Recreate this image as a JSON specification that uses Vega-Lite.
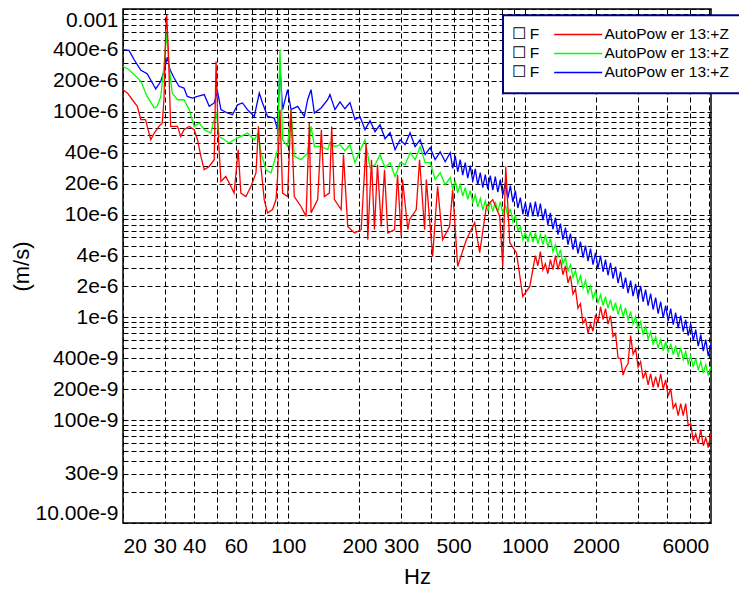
{
"$schema":"https://vega.github.io/schema/vega-lite/v6.json",
"width":588,"height":514,
"autosize":{"type":"none"},
"padding":{"left":123,"top":9,"right":28,"bottom":66},
"background":"white",
"config":{"view":{"stroke":"#000","strokeWidth":1.5},"font":"Liberation Sans","legend":{"labelFontSize":15.5,"labelFont":"Liberation Sans","labelColor":"#000"}},
"data":{"values":[
{"s":"S3","f":20,"v":4.02e-4},{"s":"S3","f":21.2,"v":3.96e-4},{"s":"S3","f":22.3,"v":3.21e-4},{"s":"S3","f":23.8,"v":2.53e-4},{"s":"S3","f":25.3,"v":2.35e-4},{"s":"S3","f":27.1,"v":1.77e-4},{"s":"S3","f":27.5,"v":1.67e-4},{"s":"S3","f":28.9,"v":1.98e-4},{"s":"S3","f":29.8,"v":2.47e-4},{"s":"S3","f":30.8,"v":3.41e-4},{"s":"S3","f":31.6,"v":2.57e-4},{"s":"S3","f":32.9,"v":2.13e-4},{"s":"S3","f":34.5,"v":1.77e-4},{"s":"S3","f":36.2,"v":1.70e-4},{"s":"S3","f":37.4,"v":1.41e-4},{"s":"S3","f":39.3,"v":1.36e-4},{"s":"S3","f":41.3,"v":1.41e-4},{"s":"S3","f":44.1,"v":1.47e-4},{"s":"S3","f":46.3,"v":1.13e-4},{"s":"S3","f":48.6,"v":1.22e-4},{"s":"S3","f":50.2,"v":1.58e-4},{"s":"S3","f":51.9,"v":1.05e-4},{"s":"S3","f":55.3,"v":9.73e-5},{"s":"S3","f":58.1,"v":9.37e-5},{"s":"S3","f":61.0,"v":1.17e-4},{"s":"S3","f":64.0,"v":1.22e-4},{"s":"S3","f":67.2,"v":1.05e-4},{"s":"S3","f":71.8,"v":9.02e-5},{"s":"S3","f":75.4,"v":1.52e-4},{"s":"S3","f":77.8,"v":1.22e-4},{"s":"S3","f":81.7,"v":9.02e-5},{"s":"S3","f":87.2,"v":8.70e-5},{"s":"S3","f":90.1,"v":6.70e-5},{"s":"S3","f":92.2,"v":2.76e-4},{"s":"S3","f":94.6,"v":1.05e-4},{"s":"S3","f":99.3,"v":1.64e-4},{"s":"S3","f":102.7,"v":1.05e-4},{"s":"S3","f":109.5,"v":1.13e-4},{"s":"S3","f":116.9,"v":9.02e-5},{"s":"S3","f":120.7,"v":1.31e-4},{"s":"S3","f":124.8,"v":1.64e-4},{"s":"S3","f":128.9,"v":9.73e-5},{"s":"S3","f":137.6,"v":1.09e-4},{"s":"S3","f":146.7,"v":1.31e-4},
{"s":"S3","f":150,"v":1.47e-4},{"s":"S3","f":157.5,"v":1.05e-4},{"s":"S3","f":165.4,"v":1.25e-4},{"s":"S3","f":173.6,"v":1.07e-4},{"s":"S3","f":182.3,"v":1.23e-4},{"s":"S3","f":191.4,"v":8.40e-5},{"s":"S3","f":201.0,"v":8.96e-5},{"s":"S3","f":211.1,"v":6.70e-5},{"s":"S3","f":221.6,"v":8.19e-5},{"s":"S3","f":232.7,"v":6.40e-5},{"s":"S3","f":244.3,"v":7.49e-5},{"s":"S3","f":256.5,"v":5.47e-5},{"s":"S3","f":269.4,"v":6.26e-5},{"s":"S3","f":282.8,"v":4.28e-5},{"s":"S3","f":297.0,"v":5.35e-5},{"s":"S3","f":311.8,"v":4.79e-5},{"s":"S3","f":327.4,"v":6.26e-5},{"s":"S3","f":343.8,"v":4.58e-5},{"s":"S3","f":361.0,"v":5.35e-5},{"s":"S3","f":379.0,"v":3.83e-5},{"s":"S3","f":398.0,"v":4.48e-5},{"s":"S3","f":417.9,"v":3.42e-5},{"s":"S3","f":438.8,"v":4.09e-5},{"s":"S3","f":460.7,"v":3.27e-5},
{"s":"S3","f":483.8,"v":4.00e-5},{"s":"S3","f":495.7,"v":2.82e-5},{"s":"S3","f":508.0,"v":3.73e-5},{"s":"S3","f":520.5,"v":2.61e-5},{"s":"S3","f":533.3,"v":3.42e-5},{"s":"S3","f":546.5,"v":2.42e-5},{"s":"S3","f":560.0,"v":3.20e-5},{"s":"S3","f":573.8,"v":2.26e-5},{"s":"S3","f":588.0,"v":2.99e-5},{"s":"S3","f":602.5,"v":2.11e-5},{"s":"S3","f":617.4,"v":2.79e-5},{"s":"S3","f":632.6,"v":1.95e-5},{"s":"S3","f":648.3,"v":2.56e-5},{"s":"S3","f":664.3,"v":1.83e-5},{"s":"S3","f":680.7,"v":2.45e-5},{"s":"S3","f":697.5,"v":1.77e-5},{"s":"S3","f":714.7,"v":2.39e-5},{"s":"S3","f":732.4,"v":1.73e-5},{"s":"S3","f":750.5,"v":2.34e-5},{"s":"S3","f":769.0,"v":1.65e-5},{"s":"S3","f":788.0,"v":2.19e-5},{"s":"S3","f":807.5,"v":1.54e-5},{"s":"S3","f":827.4,"v":2.04e-5},{"s":"S3","f":847.8,"v":1.44e-5},{"s":"S3","f":868.8,"v":1.91e-5},{"s":"S3","f":890.3,"v":1.32e-5},{"s":"S3","f":912.2,"v":1.71e-5},{"s":"S3","f":934.7,"v":1.16e-5},{"s":"S3","f":957.8,"v":1.46e-5},{"s":"S3","f":981.5,"v":1.01e-5},{"s":"S3","f":1005.7,"v":1.31e-5},{"s":"S3","f":1030.5,"v":9.56e-6},{"s":"S3","f":1056,"v":1.31e-5},{"s":"S3","f":1082,"v":9.67e-6},{"s":"S3","f":1109,"v":1.34e-5},{"s":"S3","f":1136,"v":9.56e-6},{"s":"S3","f":1164,"v":1.28e-5},{"s":"S3","f":1193,"v":8.84e-6},{"s":"S3","f":1222,"v":1.14e-5},{"s":"S3","f":1252,"v":7.96e-6},{"s":"S3","f":1283,"v":1.04e-5},{"s":"S3","f":1315,"v":7.20e-6},{"s":"S3","f":1348,"v":9.33e-6},{"s":"S3","f":1381,"v":6.38e-6},{"s":"S3","f":1415,"v":8.16e-6},{"s":"S3","f":1450,"v":5.70e-6},{"s":"S3","f":1486,"v":7.46e-6},{"s":"S3","f":1523,"v":5.10e-6},{"s":"S3","f":1560,"v":6.52e-6},{"s":"S3","f":1599,"v":4.56e-6},{"s":"S3","f":1638,"v":5.96e-6},{"s":"S3","f":1678,"v":4.17e-6},{"s":"S3","f":1720,"v":5.45e-6},{"s":"S3","f":1762,"v":3.81e-6},{"s":"S3","f":1806,"v":4.98e-6},{"s":"S3","f":1851,"v":3.52e-6},{"s":"S3","f":1896,"v":4.66e-6},{"s":"S3","f":1943,"v":3.26e-6},{"s":"S3","f":1991,"v":4.25e-6},{"s":"S3","f":2040,"v":3.01e-6},{"s":"S3","f":2091,"v":3.98e-6},{"s":"S3","f":2143,"v":2.78e-6},{"s":"S3","f":2195,"v":3.64e-6},{"s":"S3","f":2249,"v":2.57e-6},{"s":"S3","f":2305,"v":3.40e-6},{"s":"S3","f":2362,"v":2.38e-6},{"s":"S3","f":2420,"v":3.12e-6},{"s":"S3","f":2480,"v":2.15e-6},{"s":"S3","f":2541,"v":2.78e-6},{"s":"S3","f":2604,"v":1.90e-6},{"s":"S3","f":2668,"v":2.44e-6},{"s":"S3","f":2734,"v":1.72e-6},{"s":"S3","f":2802,"v":2.28e-6},{"s":"S3","f":2871,"v":1.61e-6},{"s":"S3","f":2942,"v":2.12e-6},{"s":"S3","f":3015,"v":1.51e-6},{"s":"S3","f":3089,"v":2.03e-6},{"s":"S3","f":3165,"v":1.42e-6},{"s":"S3","f":3243,"v":1.86e-6},{"s":"S3","f":3323,"v":1.30e-6},{"s":"S3","f":3406,"v":1.70e-6},{"s":"S3","f":3490,"v":1.19e-6},{"s":"S3","f":3576,"v":1.56e-6},{"s":"S3","f":3664,"v":1.09e-6},{"s":"S3","f":3755,"v":1.42e-6},{"s":"S3","f":3848,"v":9.94e-7},{"s":"S3","f":3942,"v":1.30e-6},{"s":"S3","f":4039,"v":9.21e-7},{"s":"S3","f":4140,"v":1.22e-6},{"s":"S3","f":4242,"v":8.51e-7},{"s":"S3","f":4347,"v":1.11e-6},{"s":"S3","f":4454,"v":7.86e-7},{"s":"S3","f":4564,"v":1.04e-6},{"s":"S3","f":4677,"v":7.26e-7},{"s":"S3","f":4792,"v":9.49e-7},{"s":"S3","f":4910,"v":6.64e-7},{"s":"S3","f":5032,"v":8.69e-7},{"s":"S3","f":5156,"v":5.94e-7},{"s":"S3","f":5283,"v":7.59e-7},{"s":"S3","f":5413,"v":5.25e-7},{"s":"S3","f":5548,"v":6.79e-7},{"s":"S3","f":5685,"v":4.69e-7},{"s":"S3","f":5825,"v":6.07e-7},{"s":"S3","f":5969,"v":4.20e-7},{"s":"S3","f":6116,"v":5.43e-7},
{"s":"S2","f":20,"v":2.77e-4},{"s":"S2","f":21.2,"v":2.57e-4},{"s":"S2","f":22.3,"v":2.30e-4},{"s":"S2","f":23.8,"v":1.98e-4},{"s":"S2","f":25.3,"v":1.41e-4},{"s":"S2","f":27.1,"v":1.09e-4},{"s":"S2","f":27.9,"v":1.13e-4},{"s":"S2","f":28.9,"v":1.41e-4},{"s":"S2","f":29.8,"v":2.77e-4},{"s":"S2","f":30.6,"v":5.84e-4},{"s":"S2","f":31.3,"v":2.77e-4},{"s":"S2","f":32.3,"v":1.52e-4},{"s":"S2","f":34.0,"v":1.31e-4},{"s":"S2","f":36.2,"v":1.31e-4},{"s":"S2","f":38.1,"v":1.05e-4},{"s":"S2","f":40.0,"v":7.21e-5},{"s":"S2","f":42.0,"v":7.78e-5},{"s":"S2","f":44.1,"v":6.70e-5},{"s":"S2","f":47.1,"v":6.22e-5},{"s":"S2","f":48.6,"v":8.40e-5},{"s":"S2","f":49.7,"v":9.37e-5},{"s":"S2","f":51.0,"v":5.76e-5},{"s":"S2","f":53.6,"v":5.35e-5},{"s":"S2","f":56.2,"v":4.97e-5},{"s":"S2","f":59.0,"v":5.35e-5},{"s":"S2","f":63.0,"v":5.76e-5},{"s":"S2","f":67.2,"v":6.22e-5},{"s":"S2","f":71.8,"v":5.35e-5},{"s":"S2","f":74.6,"v":6.22e-5},{"s":"S2","f":76.6,"v":3.97e-5},{"s":"S2","f":80.5,"v":2.73e-5},{"s":"S2","f":84.5,"v":2.54e-5},{"s":"S2","f":90.1,"v":4.28e-5},{"s":"S2","f":92.2,"v":4.02e-4},{"s":"S2","f":94.6,"v":5.35e-5},{"s":"S2","f":99.3,"v":4.61e-5},{"s":"S2","f":102.7,"v":1.05e-4},{"s":"S2","f":106.0,"v":3.68e-5},{"s":"S2","f":113.2,"v":3.42e-5},{"s":"S2","f":120.7,"v":3.97e-5},{"s":"S2","f":124.8,"v":7.21e-5},{"s":"S2","f":128.9,"v":4.61e-5},{"s":"S2","f":137.6,"v":4.61e-5},{"s":"S2","f":146.7,"v":4.28e-5},
{"s":"S2","f":150,"v":5.01e-5},{"s":"S2","f":157.5,"v":4.58e-5},{"s":"S2","f":165.4,"v":4.79e-5},{"s":"S2","f":173.6,"v":4.18e-5},{"s":"S2","f":182.3,"v":4.79e-5},{"s":"S2","f":191.4,"v":3.20e-5},{"s":"S2","f":201.0,"v":4.18e-5},{"s":"S2","f":211.1,"v":5.35e-5},{"s":"S2","f":221.6,"v":2.86e-5},{"s":"S2","f":232.7,"v":3.06e-5},{"s":"S2","f":244.3,"v":3.83e-5},{"s":"S2","f":256.5,"v":2.86e-5},{"s":"S2","f":269.4,"v":3.20e-5},{"s":"S2","f":282.8,"v":2.34e-5},{"s":"S2","f":297.0,"v":3.20e-5},{"s":"S2","f":311.8,"v":3.06e-5},{"s":"S2","f":327.4,"v":4.00e-5},{"s":"S2","f":343.8,"v":3.42e-5},{"s":"S2","f":361.0,"v":4.58e-5},{"s":"S2","f":379.0,"v":3.20e-5},{"s":"S2","f":398.0,"v":3.20e-5},{"s":"S2","f":417.9,"v":2.19e-5},{"s":"S2","f":438.8,"v":2.56e-5},{"s":"S2","f":460.7,"v":1.95e-5},
{"s":"S2","f":483.8,"v":2.29e-5},{"s":"S2","f":495.7,"v":1.77e-5},{"s":"S2","f":508.0,"v":2.14e-5},{"s":"S2","f":520.5,"v":1.63e-5},{"s":"S2","f":533.3,"v":1.95e-5},{"s":"S2","f":546.5,"v":1.51e-5},{"s":"S2","f":560.0,"v":1.83e-5},{"s":"S2","f":573.8,"v":1.41e-5},{"s":"S2","f":588.0,"v":1.71e-5},{"s":"S2","f":602.5,"v":1.31e-5},{"s":"S2","f":617.4,"v":1.56e-5},{"s":"S2","f":632.6,"v":1.19e-5},{"s":"S2","f":648.3,"v":1.43e-5},{"s":"S2","f":664.3,"v":1.11e-5},{"s":"S2","f":680.7,"v":1.36e-5},{"s":"S2","f":697.5,"v":1.08e-5},{"s":"S2","f":714.7,"v":1.34e-5},{"s":"S2","f":732.4,"v":1.07e-5},{"s":"S2","f":750.5,"v":1.34e-5},{"s":"S2","f":769.0,"v":1.07e-5},{"s":"S2","f":788.0,"v":1.34e-5},{"s":"S2","f":807.5,"v":1.03e-5},{"s":"S2","f":827.4,"v":1.25e-5},{"s":"S2","f":847.8,"v":9.54e-6},{"s":"S2","f":868.8,"v":1.14e-5},{"s":"S2","f":890.3,"v":8.53e-6},{"s":"S2","f":912.2,"v":9.98e-6},{"s":"S2","f":934.7,"v":6.98e-6},{"s":"S2","f":957.8,"v":7.63e-6},{"s":"S2","f":981.5,"v":5.70e-6},{"s":"S2","f":1005.7,"v":6.67e-6},{"s":"S2","f":1030.5,"v":5.39e-6},{"s":"S2","f":1056,"v":6.82e-6},{"s":"S2","f":1082,"v":5.39e-6},{"s":"S2","f":1109,"v":6.67e-6},{"s":"S2","f":1136,"v":5.21e-6},{"s":"S2","f":1164,"v":6.38e-6},{"s":"S2","f":1193,"v":5.10e-6},{"s":"S2","f":1222,"v":6.38e-6},{"s":"S2","f":1252,"v":4.88e-6},{"s":"S2","f":1283,"v":5.83e-6},{"s":"S2","f":1315,"v":4.36e-6},{"s":"S2","f":1348,"v":5.09e-6},{"s":"S2","f":1381,"v":3.85e-6},{"s":"S2","f":1415,"v":4.56e-6},{"s":"S2","f":1450,"v":3.33e-6},{"s":"S2","f":1486,"v":3.80e-6},{"s":"S2","f":1523,"v":2.82e-6},{"s":"S2","f":1560,"v":3.26e-6},{"s":"S2","f":1599,"v":2.44e-6},{"s":"S2","f":1638,"v":2.85e-6},{"s":"S2","f":1678,"v":2.15e-6},{"s":"S2","f":1720,"v":2.54e-6},{"s":"S2","f":1762,"v":1.92e-6},{"s":"S2","f":1806,"v":2.28e-6},{"s":"S2","f":1851,"v":1.72e-6},{"s":"S2","f":1896,"v":2.03e-6},{"s":"S2","f":1943,"v":1.53e-6},{"s":"S2","f":1991,"v":1.81e-6},{"s":"S2","f":2040,"v":1.39e-6},{"s":"S2","f":2091,"v":1.66e-6},{"s":"S2","f":2143,"v":1.30e-6},{"s":"S2","f":2195,"v":1.59e-6},{"s":"S2","f":2249,"v":1.23e-6},{"s":"S2","f":2305,"v":1.49e-6},{"s":"S2","f":2362,"v":1.15e-6},{"s":"S2","f":2420,"v":1.39e-6},{"s":"S2","f":2480,"v":1.07e-6},{"s":"S2","f":2541,"v":1.30e-6},{"s":"S2","f":2604,"v":1.02e-6},{"s":"S2","f":2668,"v":1.24e-6},{"s":"S2","f":2734,"v":9.52e-7},{"s":"S2","f":2802,"v":1.14e-6},{"s":"S2","f":2871,"v":8.60e-7},{"s":"S2","f":2942,"v":1.02e-6},{"s":"S2","f":3015,"v":7.68e-7},{"s":"S2","f":3089,"v":9.08e-7},{"s":"S2","f":3165,"v":6.86e-7},{"s":"S2","f":3243,"v":8.12e-7},{"s":"S2","f":3323,"v":6.14e-7},{"s":"S2","f":3406,"v":7.26e-7},{"s":"S2","f":3490,"v":5.49e-7},{"s":"S2","f":3576,"v":6.49e-7},{"s":"S2","f":3664,"v":5.02e-7},{"s":"S2","f":3755,"v":6.07e-7},{"s":"S2","f":3848,"v":4.74e-7},{"s":"S2","f":3942,"v":5.80e-7},{"s":"S2","f":4039,"v":4.54e-7},{"s":"S2","f":4140,"v":5.55e-7},{"s":"S2","f":4242,"v":4.34e-7},{"s":"S2","f":4347,"v":5.30e-7},{"s":"S2","f":4454,"v":4.14e-7},{"s":"S2","f":4564,"v":5.07e-7},{"s":"S2","f":4677,"v":3.88e-7},{"s":"S2","f":4792,"v":4.64e-7},{"s":"S2","f":4910,"v":3.55e-7},{"s":"S2","f":5032,"v":4.24e-7},{"s":"S2","f":5156,"v":3.28e-7},{"s":"S2","f":5283,"v":3.97e-7},{"s":"S2","f":5413,"v":3.07e-7},{"s":"S2","f":5548,"v":3.71e-7},{"s":"S2","f":5685,"v":2.87e-7},{"s":"S2","f":5825,"v":3.47e-7},{"s":"S2","f":5969,"v":2.71e-7},{"s":"S2","f":6116,"v":3.32e-7},
{"s":"S1","f":20,"v":1.64e-4},{"s":"S1","f":20.9,"v":1.52e-4},{"s":"S1","f":21.9,"v":1.31e-4},{"s":"S1","f":23.0,"v":1.13e-4},{"s":"S1","f":23.8,"v":8.40e-5},{"s":"S1","f":24.9,"v":8.40e-5},{"s":"S1","f":26.2,"v":5.35e-5},{"s":"S1","f":27.1,"v":6.22e-5},{"s":"S1","f":28.4,"v":7.21e-5},{"s":"S1","f":29.3,"v":7.78e-5},{"s":"S1","f":29.8,"v":1.31e-4},{"s":"S1","f":30.3,"v":5.84e-4},{"s":"S1","f":30.6,"v":8.80e-4},{"s":"S1","f":31.1,"v":4.02e-4},{"s":"S1","f":31.8,"v":7.21e-5},{"s":"S1","f":34.0,"v":7.21e-5},{"s":"S1","f":35.1,"v":5.76e-5},{"s":"S1","f":36.2,"v":6.70e-5},{"s":"S1","f":38.1,"v":7.21e-5},{"s":"S1","f":40.0,"v":6.70e-5},{"s":"S1","f":41.3,"v":5.35e-5},{"s":"S1","f":42.7,"v":3.68e-5},{"s":"S1","f":44.1,"v":2.73e-5},{"s":"S1","f":46.3,"v":2.94e-5},{"s":"S1","f":48.6,"v":3.42e-5},{"s":"S1","f":49.5,"v":3.09e-4},{"s":"S1","f":50.5,"v":6.22e-5},{"s":"S1","f":51.9,"v":2.10e-5},{"s":"S1","f":54.4,"v":2.35e-5},{"s":"S1","f":57.2,"v":1.88e-5},{"s":"S1","f":59.0,"v":1.62e-5},{"s":"S1","f":61.4,"v":4.28e-5},{"s":"S1","f":63.0,"v":1.62e-5},{"s":"S1","f":66.2,"v":1.50e-5},{"s":"S1","f":69.5,"v":1.88e-5},{"s":"S1","f":73.0,"v":2.54e-5},{"s":"S1","f":74.8,"v":7.21e-5},{"s":"S1","f":76.6,"v":2.94e-5},{"s":"S1","f":79.1,"v":1.40e-5},{"s":"S1","f":81.7,"v":1.04e-5},{"s":"S1","f":85.8,"v":1.12e-5},{"s":"S1","f":88.7,"v":1.40e-5},{"s":"S1","f":90.1,"v":2.35e-5},{"s":"S1","f":92.2,"v":1.05e-4},{"s":"S1","f":94.6,"v":1.62e-5},{"s":"S1","f":99.3,"v":1.50e-5},{"s":"S1","f":102.7,"v":1.05e-4},{"s":"S1","f":106.0,"v":1.50e-5},{"s":"S1","f":113.2,"v":1.20e-5},{"s":"S1","f":118.9,"v":9.61e-6},{"s":"S1","f":122.7,"v":7.78e-5},{"s":"S1","f":124.8,"v":1.04e-5},{"s":"S1","f":133.1,"v":1.40e-5},{"s":"S1","f":138.0,"v":6.70e-5},{"s":"S1","f":142.0,"v":1.50e-5},{"s":"S1","f":149.2,"v":1.62e-5},{"s":"S1","f":152.6,"v":7.21e-5},{"s":"S1","f":156.7,"v":1.40e-5},{"s":"S1","f":167.3,"v":1.12e-5},{"s":"S1","f":171.1,"v":3.83e-5},{"s":"S1","f":178.4,"v":7.68e-6},{"s":"S1","f":190.5,"v":6.62e-6},{"s":"S1","f":203.3,"v":7.13e-6},{"s":"S1","f":213.4,"v":4.97e-5},{"s":"S1","f":216.8,"v":5.70e-6},{"s":"S1","f":224.8,"v":3.42e-5},{"s":"S1","f":231.4,"v":7.13e-6},{"s":"S1","f":238.3,"v":3.06e-5},{"s":"S1","f":247.1,"v":7.68e-6},{"s":"S1","f":255.2,"v":2.73e-5},{"s":"S1","f":263.5,"v":6.62e-6},{"s":"S1","f":281.4,"v":7.13e-6},{"s":"S1","f":289.7,"v":2.44e-5},{"s":"S1","f":300.3,"v":6.14e-6},{"s":"S1","f":304.2,"v":2.19e-5},{"s":"S1","f":320.3,"v":7.13e-6},{"s":"S1","f":325.7,"v":8.92e-6},{"s":"S1","f":347.6,"v":1.12e-5},{"s":"S1","f":359.0,"v":3.42e-5},{"s":"S1","f":377.1,"v":7.13e-6},{"s":"S1","f":383.4,"v":2.19e-5},{"s":"S1","f":407.7,"v":3.92e-6},{"s":"S1","f":427.9,"v":1.88e-5},{"s":"S1","f":449.3,"v":5.70e-6},{"s":"S1","f":481.1,"v":7.68e-6},{"s":"S1","f":495.4,"v":1.75e-5},{"s":"S1","f":520.2,"v":3.13e-6},{"s":"S1","f":566.2,"v":5.70e-6},{"s":"S1","f":614.0,"v":8.34e-6},{"s":"S1","f":644.7,"v":4.26e-6},{"s":"S1","f":688.1,"v":1.20e-5},{"s":"S1","f":731.7,"v":1.40e-5},{"s":"S1","f":783.7,"v":9.61e-6},{"s":"S1","f":807.0,"v":3.13e-6},{"s":"S1","f":830.9,"v":2.94e-5},{"s":"S1","f":864.0,"v":5.33e-6},{"s":"S1","f":922.2,"v":4.26e-6},{"s":"S1","f":980.6,"v":1.60e-6},{"s":"S1","f":1050,"v":2.00e-6},
{"s":"S1","f":1109,"v":3.98e-6},{"s":"S1","f":1136,"v":3.18e-6},{"s":"S1","f":1164,"v":4.36e-6},{"s":"S1","f":1193,"v":2.91e-6},{"s":"S1","f":1222,"v":3.32e-6},{"s":"S1","f":1252,"v":2.66e-6},{"s":"S1","f":1283,"v":3.64e-6},{"s":"S1","f":1315,"v":2.91e-6},{"s":"S1","f":1348,"v":3.98e-6},{"s":"S1","f":1381,"v":2.91e-6},{"s":"S1","f":1415,"v":3.64e-6},{"s":"S1","f":1450,"v":2.60e-6},{"s":"S1","f":1486,"v":3.18e-6},{"s":"S1","f":1523,"v":2.17e-6},{"s":"S1","f":1560,"v":2.54e-6},{"s":"S1","f":1599,"v":1.68e-6},{"s":"S1","f":1638,"v":1.90e-6},{"s":"S1","f":1678,"v":1.23e-6},{"s":"S1","f":1720,"v":1.36e-6},{"s":"S1","f":1762,"v":8.78e-7},{"s":"S1","f":1806,"v":9.71e-7},{"s":"S1","f":1851,"v":7.02e-7},{"s":"S1","f":1896,"v":8.69e-7},{"s":"S1","f":1943,"v":7.34e-7},{"s":"S1","f":1991,"v":1.06e-6},{"s":"S1","f":2040,"v":8.88e-7},{"s":"S1","f":2091,"v":1.27e-6},{"s":"S1","f":2143,"v":9.50e-7},{"s":"S1","f":2195,"v":1.22e-6},{"s":"S1","f":2249,"v":8.59e-7},{"s":"S1","f":2305,"v":1.04e-6},{"s":"S1","f":2362,"v":6.50e-7},{"s":"S1","f":2420,"v":6.95e-7},{"s":"S1","f":2480,"v":4.02e-7},{"s":"S1","f":2541,"v":3.97e-7},{"s":"S1","f":2604,"v":2.75e-7},{"s":"S1","f":2668,"v":3.24e-7},{"s":"S1","f":2734,"v":3.55e-7},{"s":"S1","f":2802,"v":6.64e-7},{"s":"S1","f":2871,"v":4.39e-7},{"s":"S1","f":2942,"v":4.96e-7},{"s":"S1","f":3015,"v":3.28e-7},{"s":"S1","f":3089,"v":3.71e-7},{"s":"S1","f":3165,"v":2.54e-7},{"s":"S1","f":3243,"v":2.97e-7},{"s":"S1","f":3323,"v":2.21e-7},{"s":"S1","f":3406,"v":2.83e-7},{"s":"S1","f":3490,"v":2.09e-7},{"s":"S1","f":3576,"v":2.66e-7},{"s":"S1","f":3664,"v":2.09e-7},{"s":"S1","f":3755,"v":2.83e-7},{"s":"S1","f":3848,"v":2.02e-7},{"s":"S1","f":3942,"v":2.47e-7},{"s":"S1","f":4039,"v":1.71e-7},{"s":"S1","f":4140,"v":2.03e-7},{"s":"S1","f":4242,"v":1.31e-7},{"s":"S1","f":4347,"v":1.45e-7},{"s":"S1","f":4454,"v":1.11e-7},{"s":"S1","f":4564,"v":1.45e-7},{"s":"S1","f":4677,"v":1.11e-7},{"s":"S1","f":4792,"v":1.45e-7},{"s":"S1","f":4910,"v":8.86e-8},{"s":"S1","f":5032,"v":9.25e-8},{"s":"S1","f":5156,"v":6.32e-8},{"s":"S1","f":5283,"v":7.39e-8},{"s":"S1","f":5413,"v":5.91e-8},{"s":"S1","f":5548,"v":8.08e-8},{"s":"S1","f":5685,"v":5.65e-8},{"s":"S1","f":5825,"v":6.76e-8},{"s":"S1","f":5969,"v":5.40e-8},{"s":"S1","f":6116,"v":7.39e-8}
]},
"encoding":{
"x":{"field":"f","type":"quantitative","title":"Hz",
 "scale":{"type":"log","domain":[20,6130],"nice":false,"zero":false},
 "axis":{"values":[20,30,40,50,60,70,80,90,100,200,300,400,500,600,700,800,900,1000,2000,3000,4000,5000,6000],
  "labelExpr":"indexof([20,30,40,60,100,200,300,500,1000,2000,6000], datum.value) >= 0 ? '' + datum.value : ''",
  "grid":true,"gridColor":"#000","gridDash":[5,3],"gridWidth":1,"gridOpacity":1,"ticks":false,"domain":false,
  "labelFont":"Liberation Sans","labelFontSize":21,"labelColor":"#000","labelPadding":12,"labelFlush":5,"labelOverlap":false,
  "titleFont":"Liberation Sans","titleFontSize":22,"titleFontWeight":"normal","titleColor":"#000","titlePadding":10}},
"y":{"field":"v","type":"quantitative","title":"(m/s)",
 "scale":{"type":"log","domain":[0.00000001,0.001],"nice":false,"zero":false},
 "axis":{"values":[0.00000001,0.00000002,0.00000003,0.00000004,0.00000005,0.00000006,0.00000007,0.00000008,0.00000009,0.0000001,0.0000002,0.0000003,0.0000004,0.0000005,0.0000006,0.0000007,0.0000008,0.0000009,0.000001,0.000002,0.000003,0.000004,0.000005,0.000006,0.000007,0.000008,0.000009,0.00001,0.00002,0.00003,0.00004,0.00005,0.00006,0.00007,0.00008,0.00009,0.0001,0.0002,0.0003,0.0004,0.0005,0.0006,0.0007,0.0008,0.0009,0.001],
  "labelExpr":"datum.value==0.001?'0.001':datum.value==0.0004?'400e-6':datum.value==0.0002?'200e-6':datum.value==0.0001?'100e-6':datum.value==0.00004?'40e-6':datum.value==0.00002?'20e-6':datum.value==0.00001?'10e-6':datum.value==0.000004?'4e-6':datum.value==0.000002?'2e-6':datum.value==0.000001?'1e-6':datum.value==0.0000004?'400e-9':datum.value==0.0000002?'200e-9':datum.value==0.0000001?'100e-9':datum.value==0.00000003?'30e-9':datum.value==0.00000001?'10.00e-9':''",
  "grid":true,"gridColor":"#000","gridDash":[5,3],"gridWidth":1,"gridOpacity":1,"ticks":false,"domain":false,
  "labelFont":"Liberation Sans","labelFontSize":21,"labelColor":"#000","labelPadding":5,"labelFlush":true,"labelOverlap":false,
  "titleFont":"Liberation Sans","titleFontSize":22,"titleFontWeight":"normal","titleColor":"#000","titleX":-90,"titleY":257}},
"color":{"field":"s","type":"nominal","scale":{"domain":["S1","S2","S3"],"range":["#ff0000","#00ff00","#0000ff"]},
 "legend":{"orient":"none","legendX":380,"legendY":6.2,"title":null,"padding":11.5,
  "symbolType":"M5.32,0H13.32","symbolSize":144,"symbolStrokeWidth":1.5,
  "labelExpr":"'\u2610 F\u2003\u2003\u2003\u2003\u2009AutoPow er 13:+Z'","labelFont":"Liberation Sans","labelFontSize":15.5,"labelColor":"#000","labelOffset":-18.5,"labelLimit":400,"rowPadding":2,
  "fillColor":"white","strokeColor":"#000080",
  "encode":{"legend":{"update":{"strokeWidth":{"value":2}}}}}}
},
"layer":[
 {"transform":[{"filter":"datum.s=='S3'"}],"mark":{"type":"line","clip":true,"strokeWidth":1.3}},
 {"transform":[{"filter":"datum.s=='S2'"}],"mark":{"type":"line","clip":true,"strokeWidth":1.3}},
 {"transform":[{"filter":"datum.s=='S1'"}],"mark":{"type":"line","clip":true,"strokeWidth":1.3}}
]
}
